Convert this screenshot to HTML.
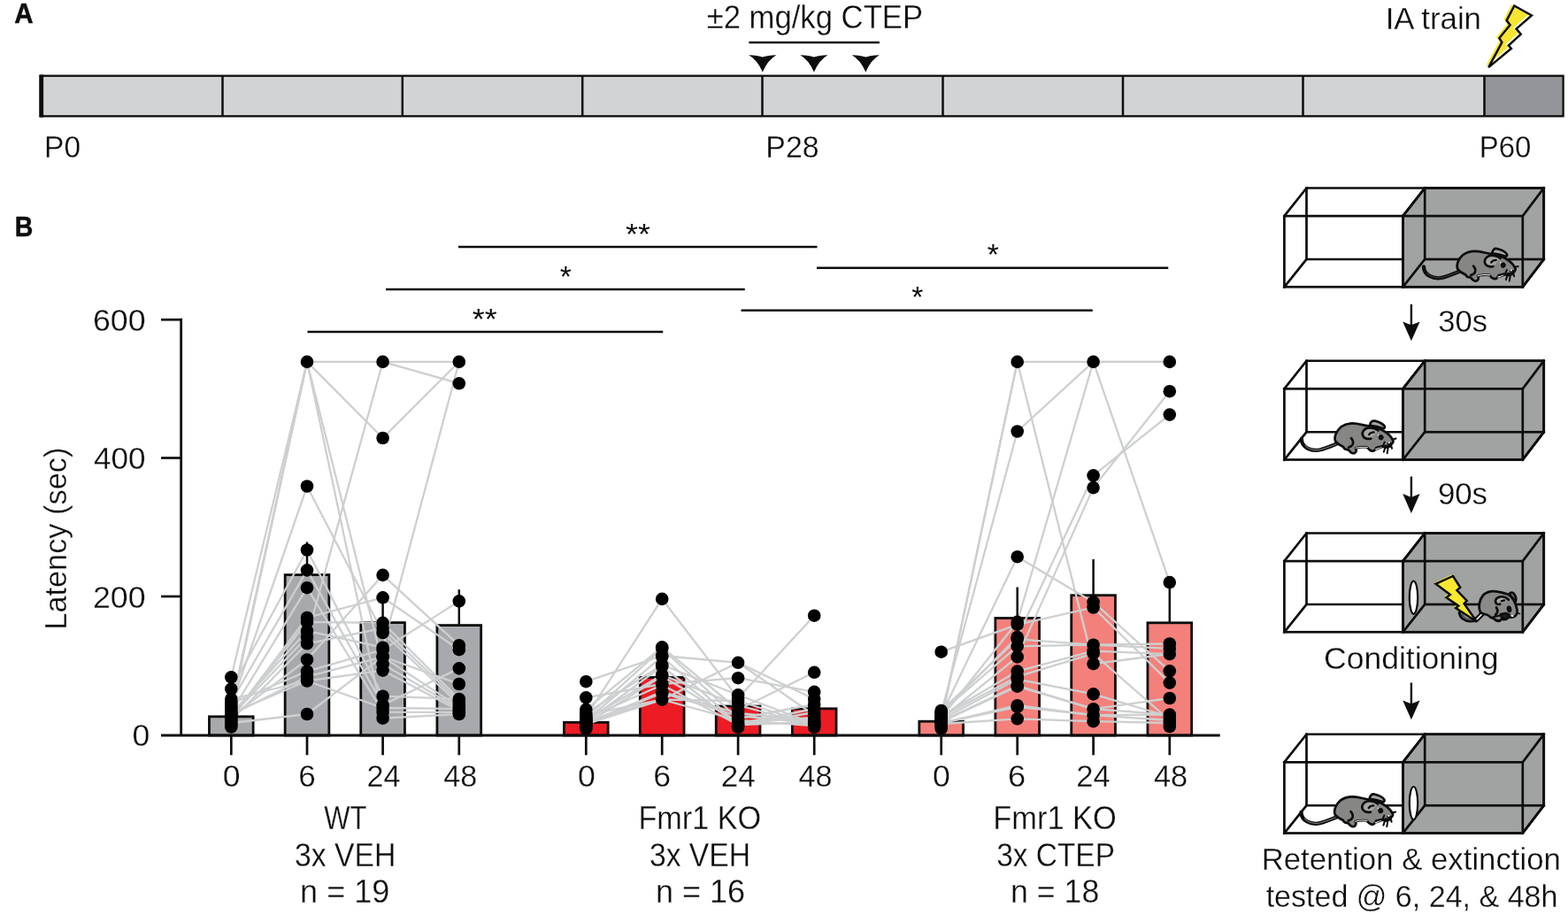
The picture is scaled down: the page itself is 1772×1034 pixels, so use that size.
<!DOCTYPE html>
<html lang="en">
<head>
<meta charset="utf-8">
<title>Figure: CTEP treatment and inhibitory avoidance</title>
<style>
html,body{margin:0;padding:0;background:#fff;}
body{width:1772px;height:1034px;overflow:hidden;}
svg{display:block;}
text{font-family:"Liberation Sans", sans-serif;fill:#0d0d0d;stroke-linejoin:round;}
</style>
</head>
<body>
<svg width="1772" height="1034" viewBox="0 0 1772 1034">
<rect width="1772" height="1034" fill="#fff"/>
<g id="panelA">
<text transform="translate(16.26,25.80) scale(0.9533,1)" font-size="31.0" font-weight="bold" stroke="#0d0d0d" stroke-width="0.5">A</text>
<rect x="45.6" y="85.7" width="1631.9" height="45.60000000000001" fill="#d1d3d4"/>
<rect x="1677.5" y="85.7" width="89.09999999999991" height="45.60000000000001" fill="#939598"/>
<rect x="45.6" y="85.7" width="1721.0" height="45.60000000000001" fill="none" stroke="#0d0d0d" stroke-width="2.3"/>
<rect x="44.5" y="84.5" width="4.6" height="48" fill="#0d0d0d"/>
<line x1="251.5" y1="85.7" x2="251.5" y2="131.3" stroke="#0d0d0d" stroke-width="2.5"/>
<line x1="454.8" y1="85.7" x2="454.8" y2="131.3" stroke="#0d0d0d" stroke-width="2.5"/>
<line x1="658.2" y1="85.7" x2="658.2" y2="131.3" stroke="#0d0d0d" stroke-width="2.5"/>
<line x1="861.5" y1="85.7" x2="861.5" y2="131.3" stroke="#0d0d0d" stroke-width="2.5"/>
<line x1="1065.5" y1="85.7" x2="1065.5" y2="131.3" stroke="#0d0d0d" stroke-width="2.5"/>
<line x1="1269" y1="85.7" x2="1269" y2="131.3" stroke="#0d0d0d" stroke-width="2.5"/>
<line x1="1472.5" y1="85.7" x2="1472.5" y2="131.3" stroke="#0d0d0d" stroke-width="2.5"/>
<line x1="1677.5" y1="85.7" x2="1677.5" y2="131.3" stroke="#0d0d0d" stroke-width="2.5"/>
<text transform="translate(50.10,178.15) scale(0.9344,1)" font-size="35.8" stroke="#fff" stroke-width="0.3">P0</text>
<text transform="translate(865.36,178.15) scale(0.9463,1)" font-size="35.8" stroke="#fff" stroke-width="0.3">P28</text>
<text transform="translate(1671.64,178.15) scale(0.9214,1)" font-size="35.8" stroke="#fff" stroke-width="0.3">P60</text>
<text transform="translate(798.63,32.45) scale(0.9474,1)" font-size="36.6" stroke="#fff" stroke-width="0.3">±2 mg/kg CTEP</text>
<text transform="translate(1565.63,32.65) scale(0.9727,1)" font-size="35.8" stroke="#fff" stroke-width="0.3">IA train</text>
<line x1="846.4" y1="48" x2="993.9" y2="48" stroke="#0d0d0d" stroke-width="2.6"/>
<path d="M846.1999999999999,62.2 Q856.8,62.6 861.8,64.6 Q866.8,62.6 877.4,62.2 Q867.8,67.5 861.8,81.4 Q855.8,67.5 846.1999999999999,62.2 Z" fill="#0d0d0d"/>
<path d="M904.3,62.2 Q914.9,62.6 919.9,64.6 Q924.9,62.6 935.5,62.2 Q925.9,67.5 919.9,81.4 Q913.9,67.5 904.3,62.2 Z" fill="#0d0d0d"/>
<path d="M962.6999999999999,62.2 Q973.3,62.6 978.3,64.6 Q983.3,62.6 993.9,62.2 Q984.3,67.5 978.3,81.4 Q972.3,67.5 962.6999999999999,62.2 Z" fill="#0d0d0d"/>
<polygon points="1708.04,5.31 1727.62,16.19 1710.22,31.42 1715.44,37.51 1701.51,50.13 1704.56,53.61 1678.89,74.93 1694.12,46.65 1691.07,41.86 1703.26,27.07 1699.34,21.85" fill="#f7e531"/>
<polygon points="1711.35,6.53 1730.93,17.41 1713.52,32.64 1718.75,38.73 1704.82,51.35 1707.87,54.83 1682.19,76.15 1697.42,47.87 1694.38,43.08 1706.56,28.29 1702.65,23.06" fill="none" stroke="#0d0d0d" stroke-width="2.5" stroke-linejoin="miter"/>
</g>
<g id="panelB">
<text transform="translate(16.67,266.60) scale(0.9261,1)" font-size="30.8" font-weight="bold" stroke="#0d0d0d" stroke-width="0.5">B</text>
<rect x="236.45" y="809.80" width="49.70" height="21.20" fill="#a7a9ac" stroke="#0d0d0d" stroke-width="2.8"/>
<rect x="322.15" y="649.60" width="49.70" height="181.40" fill="#a7a9ac" stroke="#0d0d0d" stroke-width="2.8"/>
<rect x="407.75" y="703.60" width="49.70" height="127.40" fill="#a7a9ac" stroke="#0d0d0d" stroke-width="2.8"/>
<rect x="493.95" y="706.60" width="49.70" height="124.40" fill="#a7a9ac" stroke="#0d0d0d" stroke-width="2.8"/>
<rect x="637.45" y="816.30" width="49.70" height="14.70" fill="#ed1c24" stroke="#0d0d0d" stroke-width="2.8"/>
<rect x="723.35" y="765.50" width="49.70" height="65.50" fill="#ed1c24" stroke="#0d0d0d" stroke-width="2.8"/>
<rect x="809.25" y="798.00" width="49.70" height="33.00" fill="#ed1c24" stroke="#0d0d0d" stroke-width="2.8"/>
<rect x="895.35" y="800.80" width="49.70" height="30.20" fill="#ed1c24" stroke="#0d0d0d" stroke-width="2.8"/>
<rect x="1038.85" y="815.20" width="49.70" height="15.80" fill="#f4807b" stroke="#0d0d0d" stroke-width="2.8"/>
<rect x="1124.85" y="698.50" width="49.70" height="132.50" fill="#f4807b" stroke="#0d0d0d" stroke-width="2.8"/>
<rect x="1210.75" y="672.70" width="49.70" height="158.30" fill="#f4807b" stroke="#0d0d0d" stroke-width="2.8"/>
<rect x="1296.95" y="703.80" width="49.70" height="127.20" fill="#f4807b" stroke="#0d0d0d" stroke-width="2.8"/>
<g fill="none" stroke="#cdcfd0" stroke-width="2.3" stroke-linejoin="round" stroke-linecap="round">
<polyline points="261.3,801.0 347.0,408.9 432.6,408.9 518.8,408.9"/>
<polyline points="261.3,803.0 347.0,408.9 432.6,495.0 518.8,408.9"/>
<polyline points="261.3,765.3 347.0,408.9 432.6,750.5 518.8,801.0"/>
<polyline points="261.3,799.0 347.0,408.9 432.6,811.7 518.8,807.0"/>
<polyline points="261.3,809.0 347.0,720.0 432.6,408.9 518.8,433.3"/>
<polyline points="261.3,797.0 347.0,549.5 432.6,715.0 518.8,796.0"/>
<polyline points="261.3,807.0 347.0,712.9 432.6,731.7 518.8,408.9"/>
<polyline points="261.3,778.6 347.0,621.5 432.6,786.7 518.8,790.0"/>
<polyline points="261.3,793.0 347.0,644.4 432.6,796.6 518.8,755.4"/>
<polyline points="261.3,805.0 347.0,664.2 432.6,804.7 518.8,805.0"/>
<polyline points="261.3,810.0 347.0,745.5 432.6,649.9 518.8,729.2"/>
<polyline points="261.3,811.0 347.0,698.0 432.6,675.3 518.8,734.2"/>
<polyline points="261.3,812.0 347.0,702.8 432.6,703.8 518.8,790.0"/>
<polyline points="261.3,814.0 347.0,727.3 432.6,709.9 518.8,793.0"/>
<polyline points="261.3,795.0 347.0,758.6 432.6,734.2 518.8,679.4"/>
<polyline points="261.3,808.0 347.0,764.7 432.6,742.4 518.8,798.9"/>
<polyline points="261.3,806.0 347.0,769.5 432.6,757.6 518.8,803.0"/>
<polyline points="261.3,790.0 347.0,769.5 432.6,800.0 518.8,801.0"/>
<polyline points="261.3,817.0 347.0,807.0 432.6,742.0 518.8,773.0"/>
<polyline points="662.3,810.0 748.2,676.9 834.1,789.0 920.2,695.7"/>
<polyline points="662.3,770.2 748.2,741.0 834.1,748.8 920.2,790.0"/>
<polyline points="662.3,788.3 748.2,773.0 834.1,766.2 920.2,781.9"/>
<polyline points="662.3,801.9 748.2,731.4 834.1,802.0 920.2,759.8"/>
<polyline points="662.3,806.0 748.2,751.4 834.1,785.3 920.2,818.0"/>
<polyline points="662.3,811.0 748.2,733.0 834.1,812.0 920.2,796.0"/>
<polyline points="662.3,813.0 748.2,762.7 834.1,797.0 920.2,820.0"/>
<polyline points="662.3,814.0 748.2,742.0 834.1,818.0 920.2,801.0"/>
<polyline points="662.3,815.0 748.2,790.6 834.1,748.8 920.2,808.0"/>
<polyline points="662.3,816.0 748.2,753.0 834.1,820.0 920.2,805.0"/>
<polyline points="662.3,817.0 748.2,781.9 834.1,806.0 920.2,814.0"/>
<polyline points="662.3,818.0 748.2,764.0 834.1,816.0 920.2,811.0"/>
<polyline points="662.3,808.0 748.2,790.6 834.1,792.0 920.2,819.0"/>
<polyline points="662.3,812.0 748.2,774.0 834.1,819.0 920.2,816.0"/>
<polyline points="662.3,819.0 748.2,783.0 834.1,809.0 920.2,817.0"/>
<polyline points="662.3,818.5 748.2,790.6 834.1,814.0 920.2,820.0"/>
<polyline points="1063.7,814.0 1149.7,408.9 1235.6,408.9 1321.8,408.9"/>
<polyline points="1063.7,816.0 1149.7,408.9 1235.6,750.2 1321.8,739.1"/>
<polyline points="1063.7,804.8 1149.7,487.5 1235.6,408.9 1321.8,658.1"/>
<polyline points="1063.7,811.0 1149.7,702.8 1235.6,408.9 1321.8,408.9"/>
<polyline points="1063.7,808.0 1149.7,629.2 1235.6,680.4 1321.8,758.3"/>
<polyline points="1063.7,736.7 1149.7,705.8 1235.6,686.5 1321.8,771.6"/>
<polyline points="1063.7,806.0 1149.7,720.0 1235.6,537.3 1321.8,468.6"/>
<polyline points="1063.7,812.0 1149.7,742.4 1235.6,551.1 1321.8,442.2"/>
<polyline points="1063.7,803.0 1149.7,722.3 1235.6,728.7 1321.8,727.5"/>
<polyline points="1063.7,805.0 1149.7,730.4 1235.6,728.7 1321.8,732.8"/>
<polyline points="1063.7,809.0 1149.7,758.6 1235.6,735.7 1321.8,739.1"/>
<polyline points="1063.7,810.0 1149.7,764.7 1235.6,738.6 1321.8,814.0"/>
<polyline points="1063.7,813.0 1149.7,767.6 1235.6,784.4 1321.8,810.0"/>
<polyline points="1063.7,815.0 1149.7,774.9 1235.6,801.2 1321.8,789.0"/>
<polyline points="1063.7,816.0 1149.7,775.7 1235.6,801.2 1321.8,807.6"/>
<polyline points="1063.7,817.0 1149.7,797.2 1235.6,808.2 1321.8,807.6"/>
<polyline points="1063.7,817.5 1149.7,798.9 1235.6,808.2 1321.8,814.0"/>
<polyline points="1063.7,818.0 1149.7,812.3 1235.6,815.2 1321.8,817.0"/>
</g>
<line x1="347.0" y1="612.5" x2="347.0" y2="649.2" stroke="#0d0d0d" stroke-width="2.5"/>
<line x1="432.6" y1="668" x2="432.6" y2="703.2" stroke="#0d0d0d" stroke-width="2.5"/>
<line x1="518.8" y1="666.2" x2="518.8" y2="706.2" stroke="#0d0d0d" stroke-width="2.5"/>
<line x1="1149.7" y1="663.5" x2="1149.7" y2="698.1" stroke="#0d0d0d" stroke-width="2.5"/>
<line x1="1235.6" y1="632" x2="1235.6" y2="672.3" stroke="#0d0d0d" stroke-width="2.5"/>
<line x1="1321.8" y1="652" x2="1321.8" y2="703.4" stroke="#0d0d0d" stroke-width="2.5"/>
<g fill="#000">
<circle cx="261.3" cy="801.0" r="7.3"/>
<circle cx="347.0" cy="408.9" r="7.3"/>
<circle cx="432.6" cy="408.9" r="7.3"/>
<circle cx="518.8" cy="408.9" r="7.3"/>
<circle cx="261.3" cy="803.0" r="7.3"/>
<circle cx="432.6" cy="495.0" r="7.3"/>
<circle cx="261.3" cy="765.3" r="7.3"/>
<circle cx="432.6" cy="750.5" r="7.3"/>
<circle cx="518.8" cy="801.0" r="7.3"/>
<circle cx="261.3" cy="799.0" r="7.3"/>
<circle cx="432.6" cy="811.7" r="7.3"/>
<circle cx="518.8" cy="807.0" r="7.3"/>
<circle cx="261.3" cy="809.0" r="7.3"/>
<circle cx="347.0" cy="720.0" r="7.3"/>
<circle cx="518.8" cy="433.3" r="7.3"/>
<circle cx="261.3" cy="797.0" r="7.3"/>
<circle cx="347.0" cy="549.5" r="7.3"/>
<circle cx="432.6" cy="715.0" r="7.3"/>
<circle cx="518.8" cy="796.0" r="7.3"/>
<circle cx="261.3" cy="807.0" r="7.3"/>
<circle cx="347.0" cy="712.9" r="7.3"/>
<circle cx="432.6" cy="731.7" r="7.3"/>
<circle cx="261.3" cy="778.6" r="7.3"/>
<circle cx="347.0" cy="621.5" r="7.3"/>
<circle cx="432.6" cy="786.7" r="7.3"/>
<circle cx="518.8" cy="790.0" r="7.3"/>
<circle cx="261.3" cy="793.0" r="7.3"/>
<circle cx="347.0" cy="644.4" r="7.3"/>
<circle cx="432.6" cy="796.6" r="7.3"/>
<circle cx="518.8" cy="755.4" r="7.3"/>
<circle cx="261.3" cy="805.0" r="7.3"/>
<circle cx="347.0" cy="664.2" r="7.3"/>
<circle cx="432.6" cy="804.7" r="7.3"/>
<circle cx="518.8" cy="805.0" r="7.3"/>
<circle cx="261.3" cy="810.0" r="7.3"/>
<circle cx="347.0" cy="745.5" r="7.3"/>
<circle cx="432.6" cy="649.9" r="7.3"/>
<circle cx="518.8" cy="729.2" r="7.3"/>
<circle cx="261.3" cy="811.0" r="7.3"/>
<circle cx="347.0" cy="698.0" r="7.3"/>
<circle cx="432.6" cy="675.3" r="7.3"/>
<circle cx="518.8" cy="734.2" r="7.3"/>
<circle cx="261.3" cy="812.0" r="7.3"/>
<circle cx="347.0" cy="702.8" r="7.3"/>
<circle cx="432.6" cy="703.8" r="7.3"/>
<circle cx="261.3" cy="814.0" r="7.3"/>
<circle cx="347.0" cy="727.3" r="7.3"/>
<circle cx="432.6" cy="709.9" r="7.3"/>
<circle cx="518.8" cy="793.0" r="7.3"/>
<circle cx="261.3" cy="795.0" r="7.3"/>
<circle cx="347.0" cy="758.6" r="7.3"/>
<circle cx="432.6" cy="734.2" r="7.3"/>
<circle cx="518.8" cy="679.4" r="7.3"/>
<circle cx="261.3" cy="808.0" r="7.3"/>
<circle cx="347.0" cy="764.7" r="7.3"/>
<circle cx="432.6" cy="742.4" r="7.3"/>
<circle cx="518.8" cy="798.9" r="7.3"/>
<circle cx="261.3" cy="806.0" r="7.3"/>
<circle cx="347.0" cy="769.5" r="7.3"/>
<circle cx="432.6" cy="757.6" r="7.3"/>
<circle cx="518.8" cy="803.0" r="7.3"/>
<circle cx="261.3" cy="790.0" r="7.3"/>
<circle cx="432.6" cy="800.0" r="7.3"/>
<circle cx="261.3" cy="817.0" r="7.3"/>
<circle cx="347.0" cy="807.0" r="7.3"/>
<circle cx="432.6" cy="742.0" r="7.3"/>
<circle cx="518.8" cy="773.0" r="7.3"/>
<circle cx="261.3" cy="816.0" r="7.3"/>
<circle cx="261.3" cy="819.0" r="7.3"/>
<circle cx="261.3" cy="821.5" r="7.3"/>
<circle cx="662.3" cy="810.0" r="7.3"/>
<circle cx="748.2" cy="676.9" r="7.3"/>
<circle cx="834.1" cy="789.0" r="7.3"/>
<circle cx="920.2" cy="695.7" r="7.3"/>
<circle cx="662.3" cy="770.2" r="7.3"/>
<circle cx="748.2" cy="741.0" r="7.3"/>
<circle cx="834.1" cy="748.8" r="7.3"/>
<circle cx="920.2" cy="790.0" r="7.3"/>
<circle cx="662.3" cy="788.3" r="7.3"/>
<circle cx="748.2" cy="773.0" r="7.3"/>
<circle cx="834.1" cy="766.2" r="7.3"/>
<circle cx="920.2" cy="781.9" r="7.3"/>
<circle cx="662.3" cy="801.9" r="7.3"/>
<circle cx="748.2" cy="731.4" r="7.3"/>
<circle cx="834.1" cy="802.0" r="7.3"/>
<circle cx="920.2" cy="759.8" r="7.3"/>
<circle cx="662.3" cy="806.0" r="7.3"/>
<circle cx="748.2" cy="751.4" r="7.3"/>
<circle cx="834.1" cy="785.3" r="7.3"/>
<circle cx="920.2" cy="818.0" r="7.3"/>
<circle cx="662.3" cy="811.0" r="7.3"/>
<circle cx="748.2" cy="733.0" r="7.3"/>
<circle cx="834.1" cy="812.0" r="7.3"/>
<circle cx="920.2" cy="796.0" r="7.3"/>
<circle cx="662.3" cy="813.0" r="7.3"/>
<circle cx="748.2" cy="762.7" r="7.3"/>
<circle cx="834.1" cy="797.0" r="7.3"/>
<circle cx="920.2" cy="820.0" r="7.3"/>
<circle cx="662.3" cy="814.0" r="7.3"/>
<circle cx="748.2" cy="742.0" r="7.3"/>
<circle cx="834.1" cy="818.0" r="7.3"/>
<circle cx="920.2" cy="801.0" r="7.3"/>
<circle cx="662.3" cy="815.0" r="7.3"/>
<circle cx="748.2" cy="790.6" r="7.3"/>
<circle cx="920.2" cy="808.0" r="7.3"/>
<circle cx="662.3" cy="816.0" r="7.3"/>
<circle cx="748.2" cy="753.0" r="7.3"/>
<circle cx="834.1" cy="820.0" r="7.3"/>
<circle cx="920.2" cy="805.0" r="7.3"/>
<circle cx="662.3" cy="817.0" r="7.3"/>
<circle cx="748.2" cy="781.9" r="7.3"/>
<circle cx="834.1" cy="806.0" r="7.3"/>
<circle cx="920.2" cy="814.0" r="7.3"/>
<circle cx="662.3" cy="818.0" r="7.3"/>
<circle cx="748.2" cy="764.0" r="7.3"/>
<circle cx="834.1" cy="816.0" r="7.3"/>
<circle cx="920.2" cy="811.0" r="7.3"/>
<circle cx="662.3" cy="808.0" r="7.3"/>
<circle cx="834.1" cy="792.0" r="7.3"/>
<circle cx="920.2" cy="819.0" r="7.3"/>
<circle cx="662.3" cy="812.0" r="7.3"/>
<circle cx="748.2" cy="774.0" r="7.3"/>
<circle cx="834.1" cy="819.0" r="7.3"/>
<circle cx="920.2" cy="816.0" r="7.3"/>
<circle cx="662.3" cy="819.0" r="7.3"/>
<circle cx="748.2" cy="783.0" r="7.3"/>
<circle cx="834.1" cy="809.0" r="7.3"/>
<circle cx="920.2" cy="817.0" r="7.3"/>
<circle cx="662.3" cy="818.5" r="7.3"/>
<circle cx="834.1" cy="814.0" r="7.3"/>
<circle cx="662.3" cy="820.0" r="7.3"/>
<circle cx="662.3" cy="822.0" r="7.3"/>
<circle cx="662.3" cy="823.6" r="7.3"/>
<circle cx="834.1" cy="821.9" r="7.3"/>
<circle cx="920.2" cy="821.9" r="7.3"/>
<circle cx="1063.7" cy="814.0" r="7.3"/>
<circle cx="1149.7" cy="408.9" r="7.3"/>
<circle cx="1235.6" cy="408.9" r="7.3"/>
<circle cx="1321.8" cy="408.9" r="7.3"/>
<circle cx="1063.7" cy="816.0" r="7.3"/>
<circle cx="1235.6" cy="750.2" r="7.3"/>
<circle cx="1321.8" cy="739.1" r="7.3"/>
<circle cx="1063.7" cy="804.8" r="7.3"/>
<circle cx="1149.7" cy="487.5" r="7.3"/>
<circle cx="1321.8" cy="658.1" r="7.3"/>
<circle cx="1063.7" cy="811.0" r="7.3"/>
<circle cx="1149.7" cy="702.8" r="7.3"/>
<circle cx="1063.7" cy="808.0" r="7.3"/>
<circle cx="1149.7" cy="629.2" r="7.3"/>
<circle cx="1235.6" cy="680.4" r="7.3"/>
<circle cx="1321.8" cy="758.3" r="7.3"/>
<circle cx="1063.7" cy="736.7" r="7.3"/>
<circle cx="1149.7" cy="705.8" r="7.3"/>
<circle cx="1235.6" cy="686.5" r="7.3"/>
<circle cx="1321.8" cy="771.6" r="7.3"/>
<circle cx="1063.7" cy="806.0" r="7.3"/>
<circle cx="1149.7" cy="720.0" r="7.3"/>
<circle cx="1235.6" cy="537.3" r="7.3"/>
<circle cx="1321.8" cy="468.6" r="7.3"/>
<circle cx="1063.7" cy="812.0" r="7.3"/>
<circle cx="1149.7" cy="742.4" r="7.3"/>
<circle cx="1235.6" cy="551.1" r="7.3"/>
<circle cx="1321.8" cy="442.2" r="7.3"/>
<circle cx="1063.7" cy="803.0" r="7.3"/>
<circle cx="1149.7" cy="722.3" r="7.3"/>
<circle cx="1235.6" cy="728.7" r="7.3"/>
<circle cx="1321.8" cy="727.5" r="7.3"/>
<circle cx="1063.7" cy="805.0" r="7.3"/>
<circle cx="1149.7" cy="730.4" r="7.3"/>
<circle cx="1321.8" cy="732.8" r="7.3"/>
<circle cx="1063.7" cy="809.0" r="7.3"/>
<circle cx="1149.7" cy="758.6" r="7.3"/>
<circle cx="1235.6" cy="735.7" r="7.3"/>
<circle cx="1063.7" cy="810.0" r="7.3"/>
<circle cx="1149.7" cy="764.7" r="7.3"/>
<circle cx="1235.6" cy="738.6" r="7.3"/>
<circle cx="1321.8" cy="814.0" r="7.3"/>
<circle cx="1063.7" cy="813.0" r="7.3"/>
<circle cx="1149.7" cy="767.6" r="7.3"/>
<circle cx="1235.6" cy="784.4" r="7.3"/>
<circle cx="1321.8" cy="810.0" r="7.3"/>
<circle cx="1063.7" cy="815.0" r="7.3"/>
<circle cx="1149.7" cy="774.9" r="7.3"/>
<circle cx="1235.6" cy="801.2" r="7.3"/>
<circle cx="1321.8" cy="789.0" r="7.3"/>
<circle cx="1149.7" cy="775.7" r="7.3"/>
<circle cx="1321.8" cy="807.6" r="7.3"/>
<circle cx="1063.7" cy="817.0" r="7.3"/>
<circle cx="1149.7" cy="797.2" r="7.3"/>
<circle cx="1235.6" cy="808.2" r="7.3"/>
<circle cx="1063.7" cy="817.5" r="7.3"/>
<circle cx="1149.7" cy="798.9" r="7.3"/>
<circle cx="1063.7" cy="818.0" r="7.3"/>
<circle cx="1149.7" cy="812.3" r="7.3"/>
<circle cx="1235.6" cy="815.2" r="7.3"/>
<circle cx="1321.8" cy="817.0" r="7.3"/>
<circle cx="1063.7" cy="819.0" r="7.3"/>
<circle cx="1063.7" cy="821.0" r="7.3"/>
<circle cx="1063.7" cy="823.3" r="7.3"/>
<circle cx="1321.8" cy="821.0" r="7.3"/>
</g>
<line x1="204.65" y1="359.8" x2="204.65" y2="831.0" stroke="#0d0d0d" stroke-width="2.8"/>
<line x1="182" y1="831.0" x2="1378.8" y2="831.0" stroke="#0d0d0d" stroke-width="2.9"/>
<line x1="182" y1="361.25" x2="204.65" y2="361.25" stroke="#0d0d0d" stroke-width="2.7"/>
<line x1="182" y1="517.5" x2="204.65" y2="517.5" stroke="#0d0d0d" stroke-width="2.7"/>
<line x1="182" y1="674.0" x2="204.65" y2="674.0" stroke="#0d0d0d" stroke-width="2.7"/>
<text transform="translate(104.97,373.95) scale(0.9971,1)" font-size="35.8" stroke="#fff" stroke-width="0.3">600</text>
<text transform="translate(105.96,530.45) scale(0.9799,1)" font-size="35.8" stroke="#fff" stroke-width="0.3">400</text>
<text transform="translate(104.97,686.85) scale(0.9971,1)" font-size="35.8" stroke="#fff" stroke-width="0.3">200</text>
<text transform="translate(149.53,843.45) scale(0.9944,1)" font-size="35.8" stroke="#fff" stroke-width="0.3">0</text>
<line x1="261.3" y1="831.0" x2="261.3" y2="853.3" stroke="#0d0d0d" stroke-width="2.7"/>
<text transform="translate(251.83,889.15) scale(0.9944,1)" font-size="35.8" stroke="#fff" stroke-width="0.3">0</text>
<line x1="347.0" y1="831.0" x2="347.0" y2="853.3" stroke="#0d0d0d" stroke-width="2.7"/>
<text transform="translate(337.25,889.15) scale(0.9811,1)" font-size="35.8" stroke="#fff" stroke-width="0.3">6</text>
<line x1="432.6" y1="831.0" x2="432.6" y2="853.3" stroke="#0d0d0d" stroke-width="2.7"/>
<text transform="translate(414.55,889.15) scale(0.9546,1)" font-size="35.8" stroke="#fff" stroke-width="0.3">24</text>
<line x1="518.8" y1="831.0" x2="518.8" y2="853.3" stroke="#0d0d0d" stroke-width="2.7"/>
<text transform="translate(501.24,889.15) scale(0.9552,1)" font-size="35.8" stroke="#fff" stroke-width="0.3">48</text>
<line x1="662.3" y1="831.0" x2="662.3" y2="853.3" stroke="#0d0d0d" stroke-width="2.7"/>
<text transform="translate(653.08,889.15) scale(0.9944,1)" font-size="35.8" stroke="#fff" stroke-width="0.3">0</text>
<line x1="748.2" y1="831.0" x2="748.2" y2="853.3" stroke="#0d0d0d" stroke-width="2.7"/>
<text transform="translate(738.22,889.15) scale(0.9965,1)" font-size="35.8" stroke="#fff" stroke-width="0.3">6</text>
<line x1="834.1" y1="831.0" x2="834.1" y2="853.3" stroke="#0d0d0d" stroke-width="2.7"/>
<text transform="translate(814.75,889.15) scale(0.9805,1)" font-size="35.8" stroke="#fff" stroke-width="0.3">24</text>
<line x1="920.2" y1="831.0" x2="920.2" y2="853.3" stroke="#0d0d0d" stroke-width="2.7"/>
<text transform="translate(902.49,889.15) scale(0.9552,1)" font-size="35.8" stroke="#fff" stroke-width="0.3">48</text>
<line x1="1063.7" y1="831.0" x2="1063.7" y2="853.3" stroke="#0d0d0d" stroke-width="2.7"/>
<text transform="translate(1054.08,889.15) scale(0.9944,1)" font-size="35.8" stroke="#fff" stroke-width="0.3">0</text>
<line x1="1149.7" y1="831.0" x2="1149.7" y2="853.3" stroke="#0d0d0d" stroke-width="2.7"/>
<text transform="translate(1138.94,889.15) scale(1.0118,1)" font-size="35.8" stroke="#fff" stroke-width="0.3">6</text>
<line x1="1235.6" y1="831.0" x2="1235.6" y2="853.3" stroke="#0d0d0d" stroke-width="2.7"/>
<text transform="translate(1216.27,889.15) scale(0.9669,1)" font-size="35.8" stroke="#fff" stroke-width="0.3">24</text>
<line x1="1321.8" y1="831.0" x2="1321.8" y2="853.3" stroke="#0d0d0d" stroke-width="2.7"/>
<text transform="translate(1303.98,889.15) scale(0.9620,1)" font-size="35.8" stroke="#fff" stroke-width="0.3">48</text>
<text transform="translate(75.35,711.68) rotate(-90) scale(0.9590,1)" font-size="35.8" stroke="#fff" stroke-width="0.3">Latency (sec)</text>
<text transform="translate(366.22,937.05) scale(0.8512,1)" font-size="36.5" stroke="#fff" stroke-width="0.3">WT</text>
<text transform="translate(333.00,978.85) scale(0.9239,1)" font-size="36.5" stroke="#fff" stroke-width="0.3">3x VEH</text>
<text transform="translate(339.12,1020.35) scale(0.9871,1)" font-size="36.5" stroke="#fff" stroke-width="0.3">n = 19</text>
<text transform="translate(721.43,937.05) scale(0.9380,1)" font-size="36.5" stroke="#fff" stroke-width="0.3">Fmr1 KO</text>
<text transform="translate(733.90,978.85) scale(0.9231,1)" font-size="36.5" stroke="#fff" stroke-width="0.3">3x VEH</text>
<text transform="translate(740.92,1020.35) scale(0.9862,1)" font-size="36.5" stroke="#fff" stroke-width="0.3">n = 16</text>
<text transform="translate(1122.17,937.05) scale(0.9440,1)" font-size="36.5" stroke="#fff" stroke-width="0.3">Fmr1 KO</text>
<text transform="translate(1126.26,978.85) scale(0.9154,1)" font-size="36.5" stroke="#fff" stroke-width="0.3">3x CTEP</text>
<text transform="translate(1142.10,1020.35) scale(0.9775,1)" font-size="36.5" stroke="#fff" stroke-width="0.3">n = 18</text>
<line x1="518" y1="279" x2="923.5" y2="279" stroke="#0d0d0d" stroke-width="2.7"/>
<text transform="translate(706.97,275.70) scale(1.0580,1)" font-size="34">**</text>
<line x1="436" y1="327" x2="841.75" y2="327" stroke="#0d0d0d" stroke-width="2.7"/>
<text transform="translate(632.71,323.70) scale(0.9942,1)" font-size="34">*</text>
<line x1="347.5" y1="375" x2="749.25" y2="375" stroke="#0d0d0d" stroke-width="2.7"/>
<text transform="translate(533.77,371.70) scale(1.0580,1)" font-size="34">**</text>
<line x1="923" y1="302.75" x2="1320.25" y2="302.75" stroke="#0d0d0d" stroke-width="2.7"/>
<text transform="translate(1115.71,299.45) scale(0.9942,1)" font-size="34">*</text>
<line x1="837.5" y1="350.75" x2="1234.75" y2="350.75" stroke="#0d0d0d" stroke-width="2.7"/>
<text transform="translate(1030.21,347.45) scale(0.9942,1)" font-size="34">*</text>
</g>
<g id="panelC">
<polygon points="1585.4,244.1 1610.2,212.5 1744.7,212.5 1744.7,293.0 1720.8,324.25 1585.4,324.25" fill="#a1a3a2" stroke="#0d0d0d" stroke-width="2.7" stroke-linejoin="miter" stroke-linecap="square"/>
<g fill="none" stroke="#0d0d0d" stroke-width="2.7" stroke-linejoin="miter" stroke-linecap="square">
<rect x="1451.4" y="244.1" width="134.0" height="80.15"/>
<polyline points="1451.4,244.1 1476.5,212.5 1610.2,212.5"/>
<polyline points="1476.5,212.5 1476.5,293.0 1585.4,293.0"/>
<line x1="1451.4" y1="324.25" x2="1476.5" y2="293.0"/>
<rect x="1585.4" y="244.1" width="135.39999999999986" height="80.15"/>
<rect x="1610.2" y="212.5" width="134.5" height="80.5"/>
<line x1="1585.4" y1="324.25" x2="1610.2" y2="293.0"/>
<line x1="1720.8" y1="244.1" x2="1744.7" y2="212.5"/>
<line x1="1720.8" y1="324.25" x2="1744.7" y2="293.0"/>
<line x1="1585.4" y1="244.1" x2="1610.2" y2="212.5"/>
</g>
<g transform="translate(1640,275) scale(0.04836)" stroke="#0d0d0d" stroke-width="56" stroke-linecap="round" stroke-linejoin="round" fill="none">
<path d="M-642,545 C-640,740 -420,850 -200,800 C-60,765 80,700 210,650" stroke-width="88"/>
<path d="M-560,700 C-480,790 -340,825 -200,795 C-60,760 80,700 210,650" stroke="#6a6a6a" stroke-width="12"/>
<path d="M955,235 C965,150 1010,115 1070,125 C1160,140 1270,200 1300,250 C1315,290 1290,310 1250,300 C1180,270 1080,245 955,235 Z" fill="#a6a6a4"/>
<path d="M150,600 C110,500 170,360 280,265 C380,195 520,170 640,190 C760,210 860,240 960,250 C1080,265 1230,320 1340,400 C1420,460 1480,540 1500,590 C1510,630 1480,660 1440,690 C1380,720 1300,720 1240,730 C1190,760 1130,770 1080,790 C1060,840 1010,840 960,810 C930,790 910,760 890,740 C800,730 700,740 620,760 C650,800 640,850 600,875 C560,890 510,870 490,840 C475,810 440,790 400,790 C360,780 345,760 340,735 C270,700 200,660 150,600 Z" fill="#868684"/>
<path d="M620,760 C720,735 820,730 900,742 M1090,790 C1150,770 1200,745 1250,730" stroke="#e8e8e8" stroke-width="22"/>
<path d="M520,530 C580,600 580,680 520,715 C500,728 480,735 460,742"/>
<path d="M1150,350 C1080,295 990,275 900,290 C820,310 770,380 785,450 C800,520 880,560 980,540" fill="#a6a6a4"/>
<path d="M935,445 C960,410 1000,392 1050,390" stroke-width="48"/>
<ellipse cx="1215" cy="510" rx="52" ry="58" fill="#0d0d0d" stroke-width="20"/>
<circle cx="1152" cy="452" r="16" fill="#eee" stroke="none"/>
<path d="M1300,620 L1250,735 M1330,700 L1280,850 M1390,700 L1360,880 M1440,640 L1470,770 M1480,560 L1565,536 M1100,745 L1260,705 M1380,650 L1480,650 M1260,730 L1420,700 M1300,760 L1450,720" stroke-width="42"/>
<circle cx="1405" cy="632" r="20" fill="#fff" stroke="none"/>
</g>
<line x1="1594.9" y1="343.8" x2="1594.9" y2="371.2" stroke="#0d0d0d" stroke-width="2.4"/>
<path d="M1594.9,385.2 L1585.2,363.4 Q1590.9,365.7 1594.9,367.2 Q1598.9,365.7 1604.6000000000001,363.4 Z" fill="#0d0d0d"/>
<text transform="translate(1625.26,375.15) scale(0.9666,1)" font-size="35.8" stroke="#fff" stroke-width="0.3">30s</text>
<polygon points="1585.4,439.35 1610.2,407.75 1744.7,407.75 1744.7,488.25 1720.8,519.5 1585.4,519.5" fill="#a1a3a2" stroke="#0d0d0d" stroke-width="2.7" stroke-linejoin="miter" stroke-linecap="square"/>
<g fill="none" stroke="#0d0d0d" stroke-width="2.7" stroke-linejoin="miter" stroke-linecap="square">
<rect x="1451.4" y="439.35" width="134.0" height="80.14999999999998"/>
<polyline points="1451.4,439.35 1476.5,407.75 1610.2,407.75"/>
<polyline points="1476.5,407.75 1476.5,488.25 1585.4,488.25"/>
<line x1="1451.4" y1="519.5" x2="1476.5" y2="488.25"/>
<rect x="1585.4" y="439.35" width="135.39999999999986" height="80.14999999999998"/>
<rect x="1610.2" y="407.75" width="134.5" height="80.5"/>
<line x1="1585.4" y1="519.5" x2="1610.2" y2="488.25"/>
<line x1="1720.8" y1="439.35" x2="1744.7" y2="407.75"/>
<line x1="1720.8" y1="519.5" x2="1744.7" y2="488.25"/>
<line x1="1585.4" y1="439.35" x2="1610.2" y2="407.75"/>
</g>
<g transform="translate(1501.9,469.6) scale(0.04836)" stroke="#0d0d0d" stroke-width="56" stroke-linecap="round" stroke-linejoin="round" fill="none">
<path d="M-642,545 C-640,740 -420,850 -200,800 C-60,765 80,700 210,650" stroke-width="88"/>
<path d="M-560,700 C-480,790 -340,825 -200,795 C-60,760 80,700 210,650" stroke="#e0e0e0" stroke-width="12"/>
<path d="M955,235 C965,150 1010,115 1070,125 C1160,140 1270,200 1300,250 C1315,290 1290,310 1250,300 C1180,270 1080,245 955,235 Z" fill="#a6a6a4"/>
<path d="M150,600 C110,500 170,360 280,265 C380,195 520,170 640,190 C760,210 860,240 960,250 C1080,265 1230,320 1340,400 C1420,460 1480,540 1500,590 C1510,630 1480,660 1440,690 C1380,720 1300,720 1240,730 C1190,760 1130,770 1080,790 C1060,840 1010,840 960,810 C930,790 910,760 890,740 C800,730 700,740 620,760 C650,800 640,850 600,875 C560,890 510,870 490,840 C475,810 440,790 400,790 C360,780 345,760 340,735 C270,700 200,660 150,600 Z" fill="#868684"/>
<path d="M620,760 C720,735 820,730 900,742 M1090,790 C1150,770 1200,745 1250,730" stroke="#e8e8e8" stroke-width="22"/>
<path d="M520,530 C580,600 580,680 520,715 C500,728 480,735 460,742"/>
<path d="M1150,350 C1080,295 990,275 900,290 C820,310 770,380 785,450 C800,520 880,560 980,540" fill="#a6a6a4"/>
<path d="M935,445 C960,410 1000,392 1050,390" stroke-width="48"/>
<ellipse cx="1215" cy="510" rx="52" ry="58" fill="#0d0d0d" stroke-width="20"/>
<circle cx="1152" cy="452" r="16" fill="#eee" stroke="none"/>
<path d="M1300,620 L1250,735 M1330,700 L1280,850 M1390,700 L1360,880 M1440,640 L1470,770 M1480,560 L1565,536 M1100,745 L1260,705 M1380,650 L1480,650 M1260,730 L1420,700 M1300,760 L1450,720" stroke-width="42"/>
<circle cx="1405" cy="632" r="20" fill="#fff" stroke="none"/>
</g>
<line x1="1594.9" y1="538.5" x2="1594.9" y2="565.9" stroke="#0d0d0d" stroke-width="2.4"/>
<path d="M1594.9,579.9 L1585.2,558.1 Q1590.9,560.4 1594.9,561.9 Q1598.9,560.4 1604.6000000000001,558.1 Z" fill="#0d0d0d"/>
<text transform="translate(1624.90,570.15) scale(0.9729,1)" font-size="35.8" stroke="#fff" stroke-width="0.3">90s</text>
<polygon points="1585.4,634.1 1610.2,602.5 1744.7,602.5 1744.7,683.0 1720.8,714.25 1585.4,714.25" fill="#a1a3a2" stroke="#0d0d0d" stroke-width="2.7" stroke-linejoin="miter" stroke-linecap="square"/>
<g fill="none" stroke="#0d0d0d" stroke-width="2.7" stroke-linejoin="miter" stroke-linecap="square">
<rect x="1451.4" y="634.1" width="134.0" height="80.14999999999998"/>
<polyline points="1451.4,634.1 1476.5,602.5 1610.2,602.5"/>
<polyline points="1476.5,602.5 1476.5,683.0 1585.4,683.0"/>
<line x1="1451.4" y1="714.25" x2="1476.5" y2="683.0"/>
<rect x="1585.4" y="634.1" width="135.39999999999986" height="80.14999999999998"/>
<rect x="1610.2" y="602.5" width="134.5" height="80.5"/>
<line x1="1585.4" y1="714.25" x2="1610.2" y2="683.0"/>
<line x1="1720.8" y1="634.1" x2="1744.7" y2="602.5"/>
<line x1="1720.8" y1="714.25" x2="1744.7" y2="683.0"/>
<line x1="1585.4" y1="634.1" x2="1610.2" y2="602.5"/>
</g>
<ellipse cx="1597.5" cy="675.2" rx="4.7" ry="18.6" fill="#fff" stroke="#0d0d0d" stroke-width="2.2"/>
<g transform="translate(1615,645) scale(0.06286)" stroke="#0d0d0d" stroke-width="44" stroke-linecap="round" stroke-linejoin="round" fill="none">
<path d="M545,750 C560,850 640,905 740,905 C790,905 830,900 860,895" stroke-width="50"/>
<path d="M600,790 C640,860 700,890 800,880" stroke="#555" stroke-width="30"/>
<path d="M850,880 L960,770" stroke-width="90"/>
<path d="M850,880 L960,770" stroke="#e8e8e8" stroke-width="26"/>
<path d="M1440,420 C1470,380 1510,380 1535,425 C1560,470 1570,520 1555,555 Z" fill="#7d7d7b"/>
<path d="M920,745 C880,650 900,520 980,430 C1050,370 1150,355 1250,380 C1330,395 1400,415 1450,440 C1520,500 1560,600 1580,690 C1590,740 1585,790 1540,820 C1500,840 1460,840 1430,830 C1400,870 1350,885 1300,870 C1280,900 1240,910 1200,890 C1180,860 1140,850 1100,835 C1080,800 1040,790 1000,780 C970,770 940,760 920,745 Z" fill="#8a8a88"/>
<path d="M1430,520 C1380,470 1300,455 1240,480 C1190,505 1180,560 1210,590 C1230,605 1250,605 1275,600" fill="#a9a9a7"/>
<path d="M1300,548 L1355,530" stroke-width="36"/>
<path d="M1210,660 C1240,710 1235,760 1195,790"/>
<ellipse cx="1440" cy="690" rx="22" ry="40" fill="#0d0d0d" transform="rotate(-12 1440 690)"/>
<path d="M1290,780 L1370,765 L1440,790 L1420,840 L1380,870 L1340,850 L1300,830 Z" fill="#222"/>
<path d="M1190,880 L1260,900 M1150,830 L1300,800" stroke-width="34"/>
<circle cx="1498" cy="812" r="20" fill="#fff" stroke="none"/>
<path d="M1590,760 L1630,772" stroke-width="26"/>
</g>
<polygon points="1640.27,649.59 1648.44,662.47 1644.67,665.62 1655.98,677.56 1652.84,680.70 1667.30,701.45 1643.41,685.73 1646.55,683.22 1632.73,673.79 1637.13,670.65 1620.78,658.39" fill="#f9e82f"/>
<polygon points="1642.41,651.22 1650.58,664.11 1646.81,667.25 1658.12,679.19 1654.98,682.34 1669.43,703.08 1645.55,687.37 1648.69,684.85 1634.86,675.42 1639.26,672.28 1622.92,660.02" fill="#f9e82f"/>
<polygon points="1642.03,650.97 1650.20,663.86 1646.43,667.00 1657.74,678.94 1654.60,682.09 1669.06,702.83 1645.17,687.11 1648.31,684.60 1634.49,675.17 1638.89,672.03 1622.54,659.77" fill="none" stroke="#0d0d0d" stroke-width="2.5" stroke-linejoin="miter"/>
<text transform="translate(1495.97,756.25) scale(0.9932,1)" font-size="35.8" stroke="#fff" stroke-width="0.3">Conditioning</text>
<line x1="1594.9" y1="771.5" x2="1594.9" y2="799.2" stroke="#0d0d0d" stroke-width="2.4"/>
<path d="M1594.9,813.2 L1585.2,791.4000000000001 Q1590.9,793.7 1594.9,795.2 Q1598.9,793.7 1604.6000000000001,791.4000000000001 Z" fill="#0d0d0d"/>
<polygon points="1585.4,861.35 1610.2,829.75 1744.7,829.75 1744.7,910.25 1720.8,941.5 1585.4,941.5" fill="#a1a3a2" stroke="#0d0d0d" stroke-width="2.7" stroke-linejoin="miter" stroke-linecap="square"/>
<g fill="none" stroke="#0d0d0d" stroke-width="2.7" stroke-linejoin="miter" stroke-linecap="square">
<rect x="1451.4" y="861.35" width="134.0" height="80.14999999999998"/>
<polyline points="1451.4,861.35 1476.5,829.75 1610.2,829.75"/>
<polyline points="1476.5,829.75 1476.5,910.25 1585.4,910.25"/>
<line x1="1451.4" y1="941.5" x2="1476.5" y2="910.25"/>
<rect x="1585.4" y="861.35" width="135.39999999999986" height="80.14999999999998"/>
<rect x="1610.2" y="829.75" width="134.5" height="80.5"/>
<line x1="1585.4" y1="941.5" x2="1610.2" y2="910.25"/>
<line x1="1720.8" y1="861.35" x2="1744.7" y2="829.75"/>
<line x1="1720.8" y1="941.5" x2="1744.7" y2="910.25"/>
<line x1="1585.4" y1="861.35" x2="1610.2" y2="829.75"/>
</g>
<ellipse cx="1597.5" cy="907.6" rx="4.7" ry="18.6" fill="#fff" stroke="#0d0d0d" stroke-width="2.2"/>
<g transform="translate(1501.5,891.5) scale(0.04836)" stroke="#0d0d0d" stroke-width="56" stroke-linecap="round" stroke-linejoin="round" fill="none">
<path d="M-642,545 C-640,740 -420,850 -200,800 C-60,765 80,700 210,650" stroke-width="88"/>
<path d="M-560,700 C-480,790 -340,825 -200,795 C-60,760 80,700 210,650" stroke="#e0e0e0" stroke-width="12"/>
<path d="M955,235 C965,150 1010,115 1070,125 C1160,140 1270,200 1300,250 C1315,290 1290,310 1250,300 C1180,270 1080,245 955,235 Z" fill="#a6a6a4"/>
<path d="M150,600 C110,500 170,360 280,265 C380,195 520,170 640,190 C760,210 860,240 960,250 C1080,265 1230,320 1340,400 C1420,460 1480,540 1500,590 C1510,630 1480,660 1440,690 C1380,720 1300,720 1240,730 C1190,760 1130,770 1080,790 C1060,840 1010,840 960,810 C930,790 910,760 890,740 C800,730 700,740 620,760 C650,800 640,850 600,875 C560,890 510,870 490,840 C475,810 440,790 400,790 C360,780 345,760 340,735 C270,700 200,660 150,600 Z" fill="#868684"/>
<path d="M620,760 C720,735 820,730 900,742 M1090,790 C1150,770 1200,745 1250,730" stroke="#e8e8e8" stroke-width="22"/>
<path d="M520,530 C580,600 580,680 520,715 C500,728 480,735 460,742"/>
<path d="M1150,350 C1080,295 990,275 900,290 C820,310 770,380 785,450 C800,520 880,560 980,540" fill="#a6a6a4"/>
<path d="M935,445 C960,410 1000,392 1050,390" stroke-width="48"/>
<ellipse cx="1215" cy="510" rx="52" ry="58" fill="#0d0d0d" stroke-width="20"/>
<circle cx="1152" cy="452" r="16" fill="#eee" stroke="none"/>
<path d="M1300,620 L1250,735 M1330,700 L1280,850 M1390,700 L1360,880 M1440,640 L1470,770 M1480,560 L1565,536 M1100,745 L1260,705 M1380,650 L1480,650 M1260,730 L1420,700 M1300,760 L1450,720" stroke-width="42"/>
<circle cx="1405" cy="632" r="20" fill="#fff" stroke="none"/>
</g>
<text transform="translate(1425.68,983.25) scale(0.9715,1)" font-size="35.8" stroke="#fff" stroke-width="0.3">Retention &amp; extinction</text>
<text transform="translate(1430.65,1024.65) scale(0.9513,1)" font-size="35.8" stroke="#fff" stroke-width="0.3">tested @ 6, 24, &amp; 48h</text>
</g>
</svg>
</body>
</html>
